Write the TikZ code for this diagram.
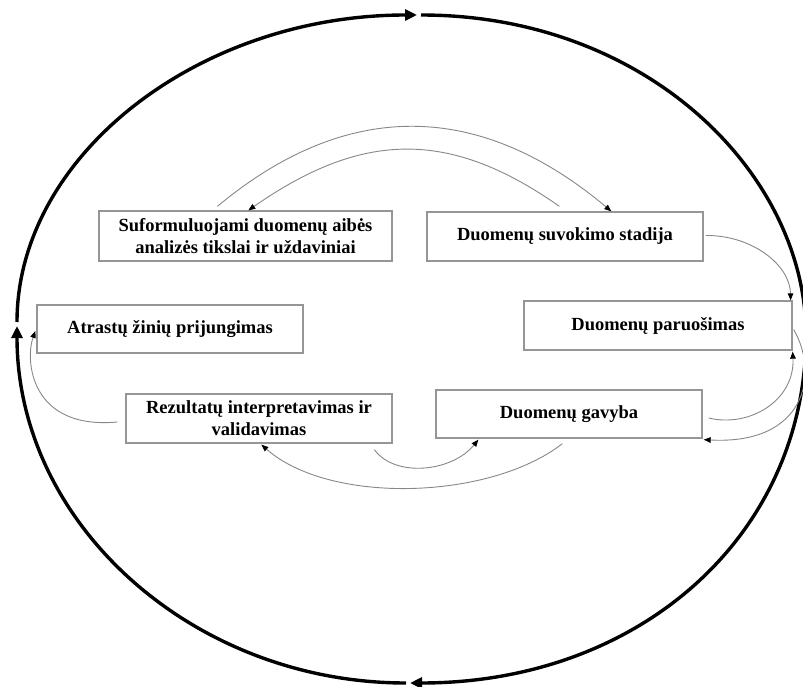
\documentclass[tikz,border=0pt]{standalone}
\usepackage{fontspec}
\setmainfont{Liberation Serif}
\usetikzlibrary{arrows.meta,calc}
\definecolor{conn}{RGB}{135,135,135}
\definecolor{boxgray}{RGB}{150,150,150}
\begin{document}
\begin{tikzpicture}[x=1pt,y=-1pt,
  stage/.style={draw=boxgray,line width=1.3pt,inner sep=0pt,align=center,
    font=\bfseries\fontsize{18.5}{22}\selectfont},
  flow/.style={draw=conn,line width=0.9pt,-{Triangle[length=7pt,width=5.5pt,color=black]}},
  ring/.style={draw=black,line width=3.4pt},
  ringarrow/.style={ring,-{Triangle[length=12pt,width=11pt]}}
]
\useasboundingbox (0,0) rectangle (803,687);
\clip (0,0) rectangle (803,687);

% stages
\node[stage,minimum width=293pt,minimum height=50pt] (b1) at (245.5,236)
  {Suformuluojami duomenų aibės\\analizės tikslai ir uždaviniai};
\node[stage,minimum width=276pt,minimum height=49pt] (b2) at (565,236.5)
  {Duomenų suvokimo stadija};
\node[stage,minimum width=268pt,minimum height=49pt] (b3) at (658,325.5)
  {Duomenų paruošimas};
\node[stage,minimum width=266pt,minimum height=48pt] (b4) at (569,414)
  {Duomenų gavyba};
\node[stage,minimum width=266pt,minimum height=48pt] (b5) at (170,329)
  {Atrastų žinių prijungimas};
\node[stage,minimum width=266pt,minimum height=49pt] (b6) at (259,418.5)
  {Rezultatų interpretavimas ir\\validavimas};

% outer cycle
\coordinate (L1) at (17,322);
\coordinate (T1) at (417,15);
\coordinate (T2) at (421,15);
\coordinate (R1) at (806,335);
\coordinate (B1) at (410,683);
\coordinate (B2) at (406,683);
\coordinate (L2) at (17,326);
\draw[ringarrow] (L1) .. controls (17,156) and (198,15) .. (T1);
\draw[ring] (T2) .. controls (648,15) and (806,175) .. (R1);
\draw[ringarrow] (R1) .. controls (806,535) and (640,683) .. (B1);
\draw[ringarrow] (B2) .. controls (194,683) and (17,525) .. (L2);

% connectors
\draw[flow] ($(b1.north west)+(119,-4)$) .. controls (349,97) and (481,102) .. ($(b2.north west)+(185,0)$);
\draw[flow] ($(b2.north west)+(133,-5)$) .. controls (448,128) and (361,132) .. ($(b1.north west)+(150,0)$);
\draw[flow] ($(b2.east)+(2,-1)$) .. controls (752,235) and (790,265) .. ($(b3.north east)+(-2,0)$);
\draw[flow] ($(b3.east)+(1,4)$) .. controls (820,375) and (805,445) .. ($(b4.south east)+(1,1)$);
\draw[flow] ($(b4.east)+(6,4)$) .. controls (750,428) and (795,400) .. ($(b3.south east)+(0,1)$);
\draw[flow] ($(b4.south west)+(127,5)$) .. controls (490,500) and (330,505) .. ($(b6.south west)+(136,1)$);
\draw[flow] ($(b6.south west)+(249,6)$) .. controls (395,478) and (452,472) .. ($(b4.south west)+(43,1)$);
\draw[flow] ($(b6.west)+(-8,3.5)$) .. controls (30,430) and (25,360) .. ($(b5.west)+(-1,2)$);
\end{tikzpicture}
\end{document}
